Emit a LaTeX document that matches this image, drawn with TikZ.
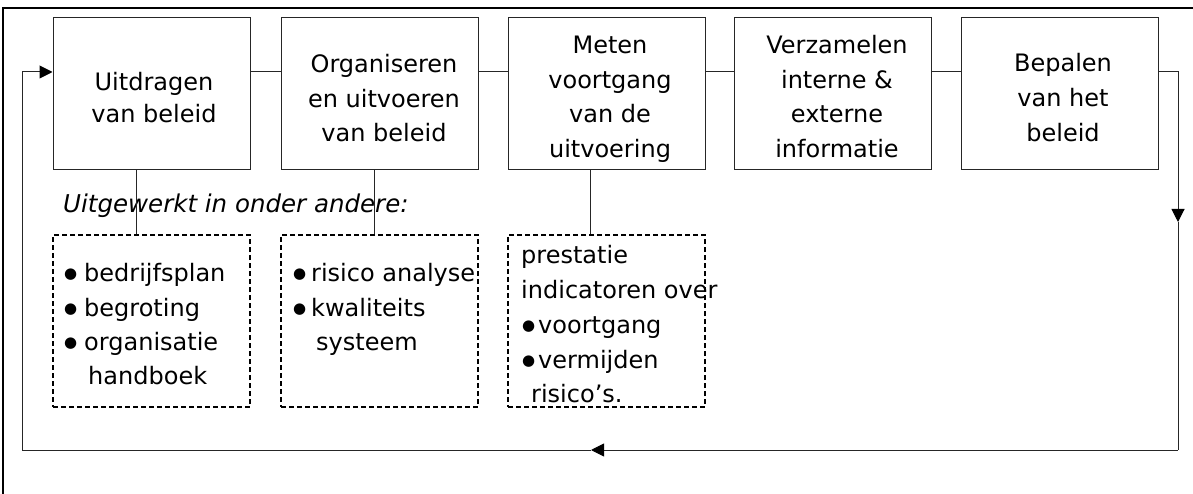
\documentclass[tikz,border=0pt]{standalone}
\usepackage{fontspec}
\setmainfont{DejaVu Sans}
\usetikzlibrary{arrows.meta}
\newcommand\bul{\raisebox{2.5pt}{\fontsize{15pt}{15pt}\selectfont ●}}
\tikzset{
  stage/.style={draw=black!85, line width=1pt, minimum width=197pt, minimum height=152pt, inner sep=0pt},
  detail/.style={draw, dashed, dash pattern=on 5pt off 3pt, line width=1.5pt, minimum width=197pt, minimum height=172pt, inner sep=0pt},
  lbl/.style={anchor=base, inner sep=0pt, font=\fontsize{24pt}{35pt}\selectfont},
  ltxt/.style={anchor=base west, inner sep=0pt, font=\fontsize{24pt}{35pt}\selectfont},
  link/.style={draw=black!85, line width=1pt},
  tip/.style={-{Triangle[length=13pt,width=13pt,color=black]}},
}
\begin{document}
\begin{tikzpicture}[x=1pt,y=-1pt]
\useasboundingbox (0,0) rectangle (1193,494);
% outer frame
\draw[line width=2pt] (3,494) -- (3,8) -- (1194,8);
% stage boxes
\node[stage] (b1) at (151.5,94) {};
\node[stage] (b2) at (379.5,94) {};
\node[stage] (b3) at (606.5,94) {};
\node[stage] (b4) at (832.5,94) {};
\node[stage] (b5) at (1059.5,94) {};
% box texts
\node[lbl] (t1a) at (154,91) {Uitdragen};
\node[lbl] (t1b) at (154,123) {van beleid};
\node[lbl] (t2a) at (384,73) {Organiseren};
\node[lbl] (t2b) at (384,108) {en uitvoeren};
\node[lbl] (t2c) at (384,142) {van beleid};
\node[lbl] (t3a) at (610,54) {Meten};
\node[lbl] (t3b) at (610,89) {voortgang};
\node[lbl] (t3c) at (610,123) {van de};
\node[lbl] (t3d) at (610,158) {uitvoering};
\node[lbl] (t4a) at (837,54) {Verzamelen};
\node[lbl] (t4b) at (837,89) {interne \&};
\node[lbl] (t4c) at (837,123) {externe};
\node[lbl] (t4d) at (837,158) {informatie};
\node[lbl] (t5a) at (1063,72) {Bepalen};
\node[lbl] (t5b) at (1063,107) {van het};
\node[lbl] (t5c) at (1063,142) {beleid};
% horizontal links
\coordinate (lv) at (0,72);
\draw[link] (b1.east |- lv) -- (b2.west |- lv);
\draw[link] (b2.east |- lv) -- (b3.west |- lv);
\draw[link] (b3.east |- lv) -- (b4.west |- lv);
\draw[link] (b4.east |- lv) -- (b5.west |- lv);
% feedback loop
\coordinate (r1) at (1178,72);
\coordinate (r2) at (1178,222);
\coordinate (r3) at (1178,450);
\coordinate (l1) at (591,450);
\coordinate (l2) at (22,450);
\coordinate (l3) at (22,72);
\draw[link,tip] (b5.east |- lv) -- (r1) -- (r2);
\draw[link] (r2) -- (r3);
\draw[link,tip] (r3) -- (l1);
\draw[link] (l1) -- (l2) -- (l3);
\draw[link,tip] (l3) -- (b1.west |- lv);
% caption
\node[ltxt, font=\fontsize{24.5pt}{35pt}\selectfont\itshape] (cap) at (63,213) {Uitgewerkt in onder andere:};
% detail boxes
\node[detail] (d1) at (151.5,321) {};
\node[detail] (d2) at (379.5,321) {};
\node[detail] (d3) at (606.5,321) {};
\draw[link] (b1.south -| 136,0) -- (d1.north -| 136,0);
\draw[link] (b2.south -| 374,0) -- (d2.north -| 374,0);
\draw[link] (b3.south -| 590,0) -- (d3.north -| 590,0);
% detail texts
\node[ltxt] (a1) at (64,281) {\makebox[20pt][l]{\bul}bedrijfsplan};
\node[ltxt] (a2) at (64,316) {\makebox[20pt][l]{\bul}begroting};
\node[ltxt] (a3) at (64,350) {\makebox[20pt][l]{\bul}organisatie};
\node[ltxt] (a4) at (88,384) {handboek};
\node[ltxt] (c1) at (293,281) {\makebox[18pt][l]{\bul}risico analyse};
\node[ltxt] (c2) at (293,316) {\makebox[18pt][l]{\bul}kwaliteits};
\node[ltxt] (c3) at (316,350) {systeem};
\node[ltxt] (e1) at (521,263) {prestatie};
\node[ltxt] (e2) at (521,298) {indicatoren over};
\node[ltxt] (e3) at (522,333) {\makebox[16pt][l]{\bul}voortgang};
\node[ltxt] (e4) at (522,368) {\makebox[16pt][l]{\bul}vermijden};
\node[ltxt] (e5) at (531,402) {risico’s.};
\end{tikzpicture}
\end{document}
